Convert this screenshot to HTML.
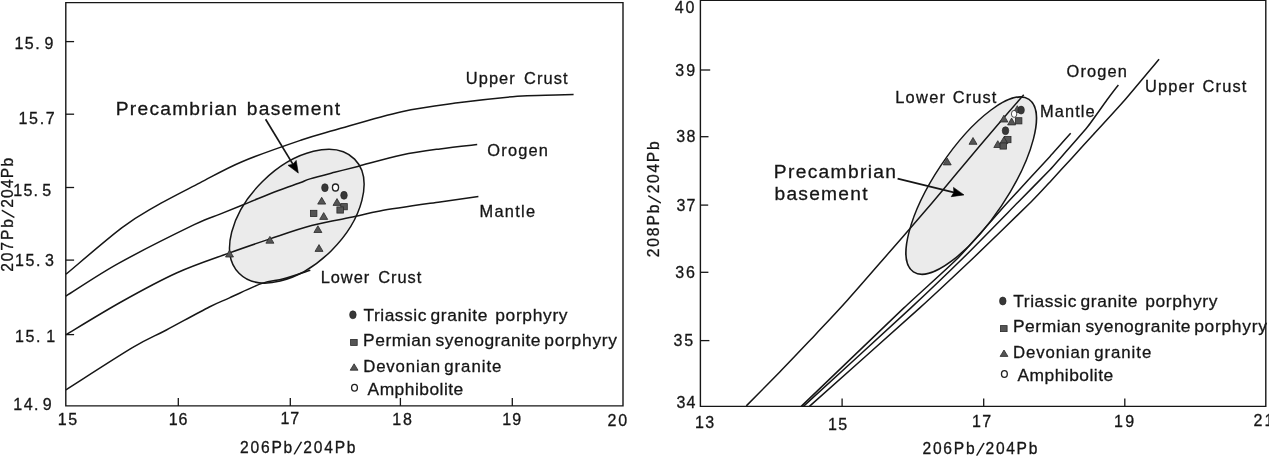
<!DOCTYPE html>
<html><head><meta charset="utf-8"><title>Pb isotope diagrams</title>
<style>
html,body{margin:0;padding:0;background:#fff;}
body{width:1269px;height:456px;overflow:hidden;}
svg{display:block;}
text{font-family:"Liberation Sans",Arial,Helvetica,sans-serif;fill:#161616;stroke:#161616;stroke-width:0.3px;}
</style></head><body>
<svg width="1269" height="456" viewBox="0 0 1269 456">
<rect width="1269" height="456" fill="#fff"/>
<path d="M65.8,405.9 L65.8,2.6 L623.0,2.6 L623.0,405.9 Z" fill="none" stroke="#161616" stroke-width="1.4"/>
<path d="M178.3,405.9 v-8" stroke="#161616" stroke-width="1.3"/>
<path d="M290.3,405.9 v-8" stroke="#161616" stroke-width="1.3"/>
<path d="M400.4,405.9 v-8" stroke="#161616" stroke-width="1.3"/>
<path d="M512.3,405.9 v-8" stroke="#161616" stroke-width="1.3"/>
<path d="M65.8,41.6 h8.3" stroke="#161616" stroke-width="1.3"/>
<path d="M65.8,114.2 h8.3" stroke="#161616" stroke-width="1.3"/>
<path d="M65.8,187.5 h8.3" stroke="#161616" stroke-width="1.3"/>
<path d="M65.8,260.1 h8.3" stroke="#161616" stroke-width="1.3"/>
<path d="M65.8,334.6 h8.3" stroke="#161616" stroke-width="1.3"/>
<ellipse cx="296.8" cy="216.2" rx="81.2" ry="48.8" transform="rotate(-44.65 296.8 216.2)" fill="#ebebeb" stroke="#161616" stroke-width="1.5"/>
<path d="M66.0,274.2 C75.3,266.5 106.8,239.2 121.7,227.9 C136.6,216.6 142.4,213.9 155.4,206.4 C168.4,198.9 185.5,190.4 199.9,182.9 C214.3,175.4 225.1,168.8 242.0,161.7 C258.9,154.5 285.9,145.3 301.4,140.0 C316.9,134.7 318.3,134.7 335.0,130.0 C351.7,125.3 380.9,116.3 401.7,111.7 C422.5,107.1 440.7,105.2 460.0,102.6 C479.3,100.0 503.0,97.5 517.3,96.3 C531.5,95.1 536.1,95.6 545.5,95.3 C554.9,95.0 568.9,94.7 573.6,94.6" fill="none" stroke="#161616" stroke-width="1.5"/>
<path d="M66.0,296.1 C74.8,290.7 97.1,275.3 118.5,263.4 C139.9,251.5 177.3,232.9 194.2,224.7 C211.1,216.5 210.9,217.8 220.0,214.1 C229.1,210.4 238.9,206.5 248.5,202.6 C258.1,198.7 269.2,194.0 277.8,190.7 C286.4,187.4 294.6,184.8 300.0,182.8 C305.4,180.8 304.2,180.7 310.0,178.9 C315.8,177.2 326.6,174.4 334.6,172.3 C342.6,170.2 346.6,169.3 357.8,166.4 C369.0,163.5 388.0,157.9 401.7,155.0 C415.4,152.1 427.4,150.6 440.0,148.9 C452.6,147.2 471.0,145.3 477.2,144.6" fill="none" stroke="#161616" stroke-width="1.5"/>
<path d="M66.0,334.7 C75.2,329.2 102.6,312.3 121.0,302.0 C139.4,291.7 158.4,281.2 176.5,273.0 C194.6,264.8 213.9,258.6 229.5,252.9 C245.1,247.2 256.2,243.5 269.9,238.9 C283.6,234.3 297.5,229.2 311.6,225.5 C325.8,221.8 343.4,219.0 354.8,216.6 C366.2,214.2 365.8,213.3 380.0,210.9 C394.2,208.5 423.6,204.3 440.0,201.9 C456.4,199.5 472.0,197.4 478.4,196.5" fill="none" stroke="#161616" stroke-width="1.5"/>
<path d="M66.0,389.8 C77.1,382.8 115.7,357.7 132.4,347.7 C149.1,337.7 153.6,336.8 166.4,330.0 C179.2,323.2 198.8,312.4 209.3,307.0 C219.8,301.6 220.7,301.8 229.5,297.9 C238.3,294.0 253.0,286.6 262.0,283.4 C271.0,280.2 275.6,281.0 283.6,278.8 C291.7,276.6 305.9,271.7 310.3,270.3" fill="none" stroke="#161616" stroke-width="1.5"/>
<ellipse cx="324.9" cy="187.7" rx="3.3" ry="4.0" fill="#383838" stroke="#222" stroke-width="0.6"/>
<ellipse cx="344.0" cy="195.3" rx="3.3" ry="4.0" fill="#383838" stroke="#222" stroke-width="0.6"/>
<ellipse cx="335.5" cy="187.5" rx="3.05" ry="3.5" fill="#fff" stroke="#222" stroke-width="1.35"/>
<path d="M321.7,197.3 L325.7,204.1 L317.7,204.1 Z" fill="#555" stroke="#2a2a2a" stroke-width="0.8"/>
<path d="M337.0,198.6 L341.0,205.4 L333.0,205.4 Z" fill="#555" stroke="#2a2a2a" stroke-width="0.8"/>
<path d="M323.7,212.6 L327.7,219.4 L319.7,219.4 Z" fill="#555" stroke="#2a2a2a" stroke-width="0.8"/>
<path d="M317.9,225.7 L321.9,232.5 L313.9,232.5 Z" fill="#555" stroke="#2a2a2a" stroke-width="0.8"/>
<path d="M269.9,236.4 L273.9,243.2 L265.9,243.2 Z" fill="#555" stroke="#2a2a2a" stroke-width="0.8"/>
<path d="M319.0,244.6 L323.0,251.4 L315.0,251.4 Z" fill="#555" stroke="#2a2a2a" stroke-width="0.8"/>
<path d="M229.5,250.2 L233.5,257.0 L225.5,257.0 Z" fill="#555" stroke="#2a2a2a" stroke-width="0.8"/>
<rect x="340.8" y="203.6" width="6.5" height="6.2" fill="#555" stroke="#2a2a2a" stroke-width="0.8"/>
<rect x="336.9" y="206.9" width="6.5" height="6.2" fill="#555" stroke="#2a2a2a" stroke-width="0.8"/>
<rect x="310.4" y="210.3" width="6.5" height="6.2" fill="#555" stroke="#2a2a2a" stroke-width="0.8"/>
<path d="M265.6,119.3 L293.3,164.9" stroke="#161616" stroke-width="1.7" fill="none"/>
<path d="M298.3,173.1 L288.0,165.3 L292.9,164.2 L296.2,160.4 Z" fill="#000" stroke="#000" stroke-width="0.6" stroke-linejoin="miter"/>
<text font-size="16.4" ><tspan x="465.83" y="84.40" style="letter-spacing:1.067px">Upper</tspan> <tspan x="524.08" y="84.40" style="letter-spacing:1.062px">Crust</tspan></text>
<text font-size="16.4" ><tspan x="487.32" y="155.70" style="letter-spacing:1.190px">Orogen</tspan></text>
<text font-size="16.4" ><tspan x="479.45" y="216.50" style="letter-spacing:1.290px">Mantle</tspan></text>
<text font-size="16.4" ><tspan x="320.65" y="282.80" style="letter-spacing:0.988px">Lower</tspan> <tspan x="378.18" y="282.80" style="letter-spacing:1.012px">Crust</tspan></text>
<text font-size="19.2" ><tspan x="115.82" y="114.60" style="letter-spacing:1.242px">Precambrian</tspan> <tspan x="246.75" y="114.60" style="letter-spacing:1.294px">basement</tspan></text>
<ellipse cx="352.9" cy="314.8" rx="3.3" ry="4.0" fill="#383838" stroke="#222" stroke-width="0.6"/>
<rect x="350.6" y="339.4" width="6.6" height="6" fill="#555" stroke="#2a2a2a" stroke-width="0.8"/>
<path d="M354.1,363.8 L358.0,370.2 L350.2,370.2 Z" fill="#555" stroke="#2a2a2a" stroke-width="0.8"/>
<ellipse cx="354.5" cy="387.8" rx="2.9" ry="3.4" fill="#fff" stroke="#222" stroke-width="1.35"/>
<text font-size="17.4" ><tspan x="363.41" y="320.90" style="letter-spacing:0.540px">Triassic</tspan> <tspan x="430.56" y="320.90" style="letter-spacing:0.630px">granite</tspan> <tspan x="495.27" y="320.90" style="letter-spacing:0.656px">porphyry</tspan></text>
<text font-size="17.4" ><tspan x="363.06" y="346.20" style="letter-spacing:0.549px">Permian</tspan> <tspan x="435.52" y="346.20" style="letter-spacing:0.491px">syenogranite</tspan> <tspan x="544.27" y="346.20" style="letter-spacing:0.727px">porphyry</tspan></text>
<text font-size="16.799999999999997" ><tspan x="363.21" y="372.00" style="letter-spacing:0.843px">Devonian</tspan> <tspan x="444.29" y="372.00" style="letter-spacing:0.960px">granite</tspan></text>
<text font-size="17.4" ><tspan x="367.56" y="394.70" style="letter-spacing:0.487px">Amphibolite</tspan></text>
<text font-size="16" ><tspan x="14.40" y="48.60" style="letter-spacing:1.500px">15.</tspan> <tspan x="44.44" y="48.60" style="letter-spacing:0.000px">9</tspan></text>
<text font-size="16" ><tspan x="18.50" y="124.20" style="letter-spacing:1.693px">15.7</tspan></text>
<text font-size="16" ><tspan x="13.30" y="196.00" style="letter-spacing:1.200px">15.</tspan> <tspan x="42.36" y="196.00" style="letter-spacing:0.000px">5</tspan></text>
<text font-size="16" ><tspan x="15.10" y="266.30" style="letter-spacing:1.500px">15.</tspan> <tspan x="44.90" y="266.30" style="letter-spacing:0.000px">3</tspan></text>
<text font-size="16" ><tspan x="15.10" y="341.80" style="letter-spacing:1.500px">15.</tspan> <tspan x="46.30" y="341.80" style="letter-spacing:0.000px">1</tspan></text>
<text font-size="16" ><tspan x="13.30" y="410.30" style="letter-spacing:1.450px">14.</tspan> <tspan x="42.74" y="410.30" style="letter-spacing:0.000px">9</tspan></text>
<text font-size="16" ><tspan x="57.70" y="425.40" style="letter-spacing:1.780px">15</tspan></text>
<text font-size="16" ><tspan x="168.70" y="425.40" style="letter-spacing:0.920px">16</tspan></text>
<text font-size="16" ><tspan x="280.40" y="424.10" style="letter-spacing:1.040px">17</tspan></text>
<text font-size="16" ><tspan x="392.30" y="425.20" style="letter-spacing:1.820px">18</tspan></text>
<text font-size="16" ><tspan x="502.20" y="425.20" style="letter-spacing:1.160px">19</tspan></text>
<text font-size="16" ><tspan x="607.40" y="425.90" style="letter-spacing:2.040px">20</tspan></text>
<text font-size="15.6" ><tspan x="240.12" y="452.70" style="letter-spacing:1.755px">206Pb</tspan><tspan x="293.50" y="453.90" font-size="19.2" rotate="15" style="stroke-width:0">/</tspan><tspan x="303.22" y="452.70" style="letter-spacing:1.805px">204Pb</tspan></text>
<text font-size="15.6" transform="translate(12.80,271.00) rotate(-90)"><tspan x="-0.78" y="0.00" style="letter-spacing:1.880px">207Pb</tspan><tspan x="52.70" y="1.20" font-size="19.2" rotate="15" style="stroke-width:0">/</tspan><tspan x="63.22" y="0.00" style="letter-spacing:1.205px">204Pb</tspan></text>
<path d="M700.4,406.4 L700.4,0.3 L1265.8,0.3 L1265.8,406.4 Z" fill="none" stroke="#161616" stroke-width="1.4"/>
<path d="M842.1,406.4 v-8" stroke="#161616" stroke-width="1.3"/>
<path d="M983.7,406.4 v-8" stroke="#161616" stroke-width="1.3"/>
<path d="M1124.8,406.4 v-8" stroke="#161616" stroke-width="1.3"/>
<path d="M700.4,70 h9.8" stroke="#161616" stroke-width="1.3"/>
<path d="M700.4,136.7 h8.1" stroke="#161616" stroke-width="1.3"/>
<path d="M700.4,205.1 h7.8" stroke="#161616" stroke-width="1.3"/>
<path d="M700.4,272.3 h8" stroke="#161616" stroke-width="1.3"/>
<path d="M700.4,340.6 h9" stroke="#161616" stroke-width="1.3"/>
<ellipse cx="971.2" cy="185.6" rx="103.9" ry="36.4" transform="rotate(-56.2 971.2 185.6)" fill="#ebebeb" stroke="#161616" stroke-width="1.5"/>
<path d="M746.3,405.9 C751.9,400.2 768.4,383.6 780.0,371.7 C791.6,359.8 804.5,346.1 815.8,334.2 C827.1,322.2 835.2,313.8 847.6,300.0 C860.0,286.2 875.9,267.7 890.0,251.5 C904.1,235.3 920.1,216.8 932.0,202.9 C943.9,189.0 949.6,181.6 961.2,167.9 C972.8,154.2 991.0,132.7 1001.4,120.5 C1011.8,108.3 1020.0,99.1 1023.7,94.8" fill="none" stroke="#161616" stroke-width="1.5"/>
<path d="M801.2,406.4 C809.8,398.2 890.8,320.3 903.9,307.9 C917.0,295.5 949.3,266.8 958.0,258.0 C966.7,249.2 1000.3,210.5 1008.0,202.0 C1015.7,193.5 1044.8,162.1 1050.0,156.4 C1055.2,150.7 1069.0,135.1 1070.7,133.2" fill="none" stroke="#161616" stroke-width="1.5"/>
<path d="M803.4,406.4 C812.4,398.2 897.6,320.3 910.9,307.9 C924.2,295.5 954.1,266.8 963.1,258.0 C972.1,249.2 1011.1,209.3 1018.3,202.0 C1025.5,194.7 1046.5,173.5 1050.0,169.8 C1053.5,166.1 1057.4,161.4 1060.5,157.9 C1063.6,154.4 1083.3,132.1 1087.2,127.3 C1091.1,122.5 1104.3,103.5 1106.9,100.0 C1109.5,96.5 1117.4,86.2 1118.4,85.0" fill="none" stroke="#161616" stroke-width="1.5"/>
<path d="M809.4,406.4 C818.6,398.2 906.1,320.3 919.8,307.9 C933.5,295.5 964.0,266.8 973.3,258.0 C982.6,249.2 1024.6,208.3 1031.0,202.0 C1037.4,195.7 1046.6,185.6 1050.0,181.9 C1053.4,178.2 1068.4,161.9 1072.0,157.9 C1075.6,153.9 1089.2,139.1 1093.6,134.3 C1098.0,129.5 1119.3,106.3 1124.8,100.0 C1130.3,93.7 1156.2,62.6 1159.1,59.2" fill="none" stroke="#161616" stroke-width="1.5"/>
<path d="M1017.3,105.7 L1021.3,112.5 L1013.3,112.5 Z" fill="#555" stroke="#2a2a2a" stroke-width="0.8"/>
<ellipse cx="1021.1" cy="110.1" rx="3.3" ry="4.0" fill="#383838" stroke="#222" stroke-width="0.6"/>
<path d="M1003.9,115.2 L1007.9,122.0 L999.9,122.0 Z" fill="#555" stroke="#2a2a2a" stroke-width="0.8"/>
<path d="M1011.6,118.1 L1015.6,124.9 L1007.6,124.9 Z" fill="#555" stroke="#2a2a2a" stroke-width="0.8"/>
<rect x="1015.4" y="117.7" width="6.5" height="6.2" fill="#555" stroke="#2a2a2a" stroke-width="0.8"/>
<ellipse cx="1014.1" cy="113.9" rx="2.7" ry="3.5" fill="#fff" stroke="#222" stroke-width="0.8"/>
<ellipse cx="1005.5" cy="130.7" rx="3.3" ry="4.0" fill="#383838" stroke="#222" stroke-width="0.6"/>
<rect x="1004.5" y="136.5" width="6.5" height="6.2" fill="#555" stroke="#2a2a2a" stroke-width="0.8"/>
<path d="M1003.9,136.8 L1007.9,143.6 L999.9,143.6 Z" fill="#555" stroke="#2a2a2a" stroke-width="0.8"/>
<path d="M997.8,140.7 L1001.8,147.5 L993.8,147.5 Z" fill="#555" stroke="#2a2a2a" stroke-width="0.8"/>
<rect x="1000.0" y="142.9" width="6.5" height="6.2" fill="#555" stroke="#2a2a2a" stroke-width="0.8"/>
<path d="M973.0,137.5 L977.0,144.3 L969.0,144.3 Z" fill="#555" stroke="#2a2a2a" stroke-width="0.8"/>
<path d="M947.2,158.1 L951.2,164.9 L943.2,164.9 Z" fill="#555" stroke="#2a2a2a" stroke-width="0.8"/>
<path d="M897.6,178.7 L954.7,192.6" stroke="#161616" stroke-width="1.7" fill="none"/>
<path d="M964.0,194.9 L951.2,196.7 L953.9,192.4 L953.5,187.4 Z" fill="#000" stroke="#000" stroke-width="0.6" stroke-linejoin="miter"/>
<text font-size="16.4" ><tspan x="895.15" y="102.80" style="letter-spacing:1.312px">Lower</tspan> <tspan x="952.78" y="102.80" style="letter-spacing:1.087px">Crust</tspan></text>
<text font-size="16.4" ><tspan x="1040.05" y="116.70" style="letter-spacing:1.090px">Mantle</tspan></text>
<text font-size="16.4" ><tspan x="1066.52" y="77.30" style="letter-spacing:1.150px">Orogen</tspan></text>
<text font-size="16.4" ><tspan x="1144.93" y="91.80" style="letter-spacing:1.192px">Upper</tspan> <tspan x="1202.48" y="91.80" style="letter-spacing:1.187px">Crust</tspan></text>
<text font-size="19.2" ><tspan x="773.82" y="177.70" style="letter-spacing:1.332px">Precambrian</tspan></text>
<text font-size="19.2" ><tspan x="774.55" y="199.60" style="letter-spacing:1.237px">basement</tspan></text>
<ellipse cx="1002.8" cy="301.0" rx="3.3" ry="4.0" fill="#383838" stroke="#222" stroke-width="0.6"/>
<rect x="1000.5" y="325.6" width="6.6" height="6" fill="#555" stroke="#2a2a2a" stroke-width="0.8"/>
<path d="M1004.0,350.0 L1007.9,356.4 L1000.1,356.4 Z" fill="#555" stroke="#2a2a2a" stroke-width="0.8"/>
<ellipse cx="1004.4" cy="374.0" rx="2.9" ry="3.4" fill="#fff" stroke="#222" stroke-width="1.35"/>
<text font-size="17.4" ><tspan x="1013.31" y="307.10" style="letter-spacing:0.540px">Triassic</tspan> <tspan x="1080.46" y="307.10" style="letter-spacing:0.630px">granite</tspan> <tspan x="1145.17" y="307.10" style="letter-spacing:0.656px">porphyry</tspan></text>
<text font-size="17.4" ><tspan x="1012.96" y="332.40" style="letter-spacing:0.549px">Permian</tspan> <tspan x="1085.42" y="332.40" style="letter-spacing:0.491px">syenogranite</tspan> <tspan x="1194.17" y="332.40" style="letter-spacing:0.727px">porphyry</tspan></text>
<text font-size="16.799999999999997" ><tspan x="1013.11" y="358.20" style="letter-spacing:0.843px">Devonian</tspan> <tspan x="1094.19" y="358.20" style="letter-spacing:0.960px">granite</tspan></text>
<text font-size="17.4" ><tspan x="1017.46" y="380.90" style="letter-spacing:0.487px">Amphibolite</tspan></text>
<text font-size="16" ><tspan x="674.64" y="12.90" style="letter-spacing:2.100px">40</tspan></text>
<text font-size="16" ><tspan x="675.30" y="76.20" style="letter-spacing:1.960px">39</tspan></text>
<text font-size="16" ><tspan x="676.30" y="142.00" style="letter-spacing:1.420px">38</tspan></text>
<text font-size="16" ><tspan x="676.60" y="210.90" style="letter-spacing:1.040px">37</tspan></text>
<text font-size="16" ><tspan x="675.30" y="277.60" style="letter-spacing:1.920px">36</tspan></text>
<text font-size="16" ><tspan x="673.60" y="346.10" style="letter-spacing:1.680px">35</tspan></text>
<text font-size="16" ><tspan x="676.60" y="407.80" style="letter-spacing:1.080px">34</tspan></text>
<text font-size="16" ><tspan x="695.00" y="428.20" style="letter-spacing:1.320px">13</tspan></text>
<text font-size="16" ><tspan x="828.10" y="429.60" style="letter-spacing:1.180px">15</tspan></text>
<text font-size="16" ><tspan x="972.00" y="427.20" style="letter-spacing:1.240px">17</tspan></text>
<text font-size="16" ><tspan x="1114.00" y="427.20" style="letter-spacing:2.460px">19</tspan></text>
<text font-size="16" ><tspan x="1253.40" y="426.30" style="letter-spacing:2.100px">21</tspan></text>
<text font-size="15.6" ><tspan x="922.52" y="454.00" style="letter-spacing:1.755px">206Pb</tspan><tspan x="975.90" y="455.20" font-size="19.2" rotate="15" style="stroke-width:0">/</tspan><tspan x="985.62" y="454.00" style="letter-spacing:1.655px">204Pb</tspan></text>
<text font-size="15.6" transform="translate(659.30,256.50) rotate(-90)"><tspan x="-0.78" y="0.00" style="letter-spacing:1.880px">208Pb</tspan><tspan x="52.70" y="1.20" font-size="19.2" rotate="15" style="stroke-width:0">/</tspan><tspan x="63.22" y="0.00" style="letter-spacing:1.705px">204Pb</tspan></text>
</svg>
</body></html>
